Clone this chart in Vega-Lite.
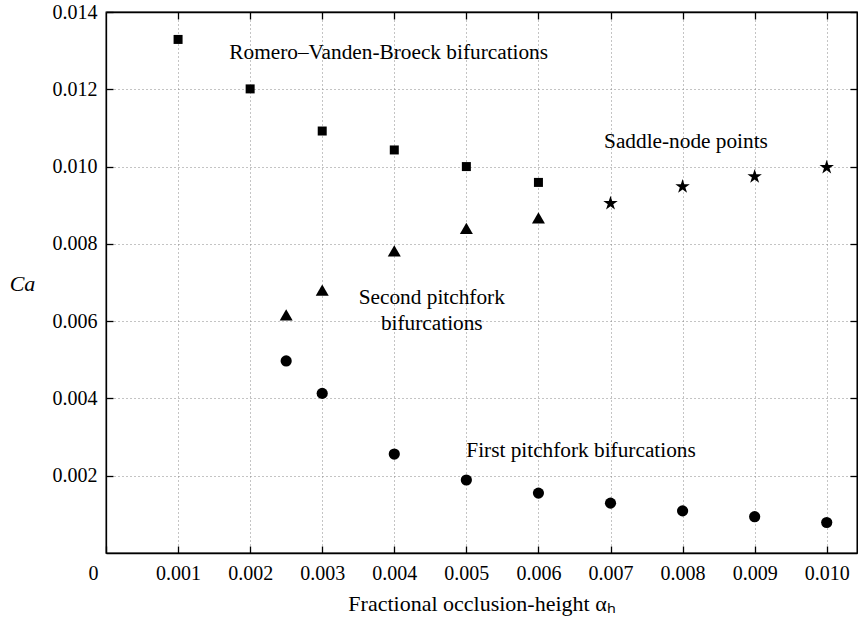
{
  "$schema": "https://vega.github.io/schema/vega-lite/v6.json",
  "width": 751,
  "height": 541,
  "autosize": {"type": "none"},
  "padding": {"left": 106, "top": 12, "right": 1, "bottom": 66},
  "background": "white",
  "config": {
    "view": {"stroke": "black", "strokeWidth": 1.3},
    "font": "Liberation Serif",
    "axis": {
      "labelFont": "Liberation Serif",
      "titleFont": "Liberation Serif",
      "labelFontSize": 20,
      "titleFontSize": 22,
      "titleFontWeight": "normal",
      "labelColor": "black",
      "titleColor": "black",
      "domainColor": "black",
      "tickColor": "black",
      "domainWidth": 1.3,
      "tickWidth": 1.3,
      "gridColor": "#888888",
      "gridDash": [1, 3],
      "gridWidth": 1
    }
  },
  "datasets": {
    "pts": [
      {"a": 0.001, "Ca": 0.01329, "type": "Romero-Vanden-Broeck"},
      {"a": 0.002, "Ca": 0.01201, "type": "Romero-Vanden-Broeck"},
      {"a": 0.003, "Ca": 0.01092, "type": "Romero-Vanden-Broeck"},
      {"a": 0.004, "Ca": 0.01043, "type": "Romero-Vanden-Broeck"},
      {"a": 0.005, "Ca": 0.01000, "type": "Romero-Vanden-Broeck"},
      {"a": 0.006, "Ca": 0.00959, "type": "Romero-Vanden-Broeck"},
      {"a": 0.007, "Ca": 0.00905, "type": "Saddle-node"},
      {"a": 0.008, "Ca": 0.00948, "type": "Saddle-node"},
      {"a": 0.009, "Ca": 0.00974, "type": "Saddle-node"},
      {"a": 0.010, "Ca": 0.00998, "type": "Saddle-node"},
      {"a": 0.0025, "Ca": 0.00616, "type": "Second pitchfork"},
      {"a": 0.003, "Ca": 0.00680, "type": "Second pitchfork"},
      {"a": 0.004, "Ca": 0.00782, "type": "Second pitchfork"},
      {"a": 0.005, "Ca": 0.00840, "type": "Second pitchfork"},
      {"a": 0.006, "Ca": 0.00867, "type": "Second pitchfork"},
      {"a": 0.0025, "Ca": 0.00497, "type": "First pitchfork"},
      {"a": 0.003, "Ca": 0.00413, "type": "First pitchfork"},
      {"a": 0.004, "Ca": 0.00256, "type": "First pitchfork"},
      {"a": 0.005, "Ca": 0.00189, "type": "First pitchfork"},
      {"a": 0.006, "Ca": 0.00155, "type": "First pitchfork"},
      {"a": 0.007, "Ca": 0.00129, "type": "First pitchfork"},
      {"a": 0.008, "Ca": 0.00109, "type": "First pitchfork"},
      {"a": 0.009, "Ca": 0.00094, "type": "First pitchfork"},
      {"a": 0.010, "Ca": 0.00079, "type": "First pitchfork"}
    ],
    "notes": [
      {"a": 0.003922, "Ca": 0.01294, "label": "Romero–Vanden-Broeck bifurcations"},
      {"a": 0.008047, "Ca": 0.010644, "label": "Saddle-node points"},
      {"a": 0.00452, "Ca": 0.006599, "label": "Second pitchfork\nbifurcations"},
      {"a": 0.006591, "Ca": 0.002647, "label": "First pitchfork bifurcations"}
    ]
  },
  "layer": [
    {
      "data": {"name": "pts"},
      "mark": {"type": "point", "filled": true, "opacity": 1, "strokeWidth": 0, "color": "black"},
      "encoding": {
        "x": {
          "field": "a", "type": "quantitative",
          "scale": {"domain": [0, 0.01042], "nice": false, "zero": true},
          "axis": {
            "orient": "bottom",
            "values": [0, 0.001, 0.002, 0.003, 0.004, 0.005, 0.006, 0.007, 0.008, 0.009, 0.010],
            "labelExpr": "datum.value == 0 ? '0' : format(datum.value, '.3f')",
            "labelOffset": {"expr": "datum.value == 0 ? -18 : 0"},
            "labelPadding": 17,
            "tickSize": -7,
            "grid": true,
            "title": "Fractional occlusion-height αₕ",
            "titlePadding": 10
          }
        },
        "y": {
          "field": "Ca", "type": "quantitative",
          "scale": {"domain": [0, 0.014], "nice": false},
          "axis": {
            "orient": "left",
            "values": [0.002, 0.004, 0.006, 0.008, 0.010, 0.012, 0.014],
            "format": ".3f",
            "tickSize": -7,
            "labelPadding": 16,
            "grid": true,
            "title": "Ca",
            "titleFontSize": 22,
            "titleFontStyle": "italic",
            "titleAngle": 0,
            "titleAlign": "center",
            "titleBaseline": "middle",
            "titleX": -84,
            "titleY": 271
          }
        },
        "shape": {
          "field": "type", "type": "nominal", "legend": null,
          "scale": {
            "domain": ["Romero-Vanden-Broeck", "Saddle-node", "Second pitchfork", "First pitchfork"],
            "range": ["square", "M0,-1L0.2245,-0.309L0.951,-0.309L0.363,0.118L0.588,0.809L0,0.382L-0.588,0.809L-0.363,0.118L-0.951,-0.309L-0.2245,-0.309Z", "triangle-up", "circle"]
          }
        },
        "size": {
          "field": "type", "type": "nominal", "legend": null,
          "scale": {
            "type": "ordinal",
            "domain": ["Romero-Vanden-Broeck", "Saddle-node", "Second pitchfork", "First pitchfork"],
            "range": [81, 230, 169, 125]
          }
        }
      }
    },
    {
      "data": {"name": "pts"},
      "mark": {"type": "point", "opacity": 0},
      "encoding": {
        "x": {
          "field": "a", "type": "quantitative",
          "scale": {"domain": [0, 0.01042], "nice": false},
          "axis": {
            "orient": "top",
            "values": [0.001, 0.002, 0.003, 0.004, 0.005, 0.006, 0.007, 0.008, 0.009, 0.010],
            "labels": false, "domain": true, "grid": false, "tickSize": -7, "title": null
          }
        },
        "y": {
          "field": "Ca", "type": "quantitative",
          "scale": {"domain": [0, 0.014], "nice": false},
          "axis": {
            "orient": "right",
            "values": [0.002, 0.004, 0.006, 0.008, 0.010, 0.012, 0.014],
            "labels": false, "domain": true, "grid": false, "tickSize": -7, "title": null
          }
        }
      }
    },
    {
      "data": {"name": "notes"},
      "mark": {"type": "text", "align": "center", "baseline": "middle", "fontSize": 21.3, "font": "Liberation Serif", "color": "black", "lineBreak": "\n", "lineHeight": 26},
      "encoding": {
        "x": {"field": "a", "type": "quantitative", "axis": null},
        "y": {"field": "Ca", "type": "quantitative", "axis": null},
        "text": {"field": "label"}
      }
    }
  ],
  "resolve": {"axis": {"x": "independent", "y": "independent"}}
}
